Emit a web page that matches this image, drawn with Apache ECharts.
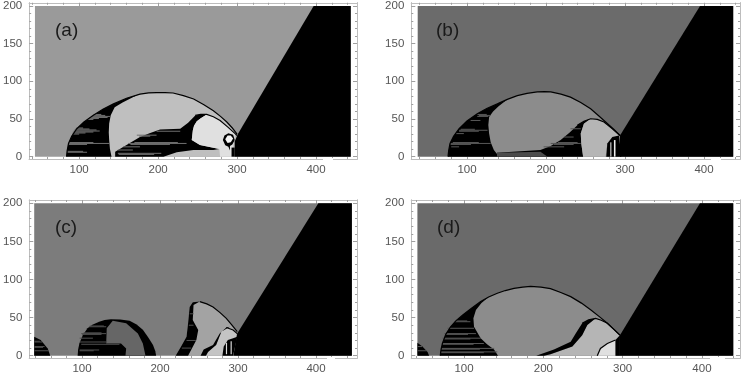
<!DOCTYPE html>
<html><head><meta charset="utf-8">
<style>html,body{margin:0;padding:0;background:#fff}#c{width:748px;height:382px;filter:blur(0.35px)}</style>
<script src="https://cdn.jsdelivr.net/npm/echarts@6/dist/echarts.min.js"></script>
</head><body><div id="c"></div>
<script>
const xMajor=[100,200,300,400];
const xMinor=[40,60,80,120,140,160,180,220,240,260,280,320,340,360,380,420,440];
const yMajor=[0,50,100,150,200];
const yMinor=[10,20,30,40,60,70,80,90,110,120,130,140,160,170,180,190];
const panelNames=['(a)','(b)','(c)','(d)'];

// Panel (a) regions [x,y]
const aBackground=[[44,0],[44,200],[444,200],[444,0]];
const aWedge=[[297,0],[297,20],[301,30],[397,200],[444,200],[444,0]];
const aOuterEdge=[[84,0],[84.8,8],[86.5,17.5],[90.5,27],[97,37],[106,46],[118,55],[130,63],[143.5,70],[160,77.5],[177,83],[188,84.6],[198,85],[209,85],[219,84.5],[232,81],[245,76.6],[258,69],[270,61],[279,53.5],[287,46],[294,38],[300,30]];
const aDome=[...aOuterEdge,[297,0]];
const aLobes=[...aOuterEdge.slice(0,11),[168,79],[155,72],[145,65.6],[140,55],[138,44],[137.5,32],[138,22],[139,10],[141,0]];
const aBand=[[145.6,0],[145.6,6.5],[160,15.5],[177,26],[190,31.5],[202.5,36],[228,37],[238,45],[247,54.7],[254,56],[261.6,56],[254,51],[249,47],[245.5,41],[244,35],[242.6,22],[253,15.3],[277.6,10],[270,8.8],[244.7,8.8],[223.6,5.7],[206.8,0]];
const aInnerEdge=[[247,54.7],[254,56],[261.6,56],[270,53],[278.5,48],[288,39.5],[297.5,30.6],[300,28]];
const aCore=[[261.6,56],[270,53],[278.5,48],[288,39.5],[297.5,30.6],[293,0],[278.5,0],[277.6,10],[253,15.3],[242.6,22],[244,35],[245.5,41],[249,47],[254,51]];
const aBlob=[[282,22],[284,28],[289,31],[295,29],[297,22],[294,16],[291,14],[291,8],[289,13],[285,15]];
const aBlobHole=[[285,23],[288,28],[292,28],[295,24],[292,19],[288,18]];
const aFoot=[[293,0],[293,12],[297,12],[297,0]];
const aStripes=[[56,118,128],[54.7,117,133],[53.4,115,139],[52,113,136],[50.7,112,125],[49.4,110,118],[38,96,105],[36.7,95,113],[35.4,94,122],[34,93,126],[32.7,92,118],[31.4,92,108],[30,91,100],[18.7,87,118],[17.5,86.5,139],[16.2,86.5,110],[7,85,105],[5.8,85,110],[33.7,198,228],[28.5,173,198],[27.2,176,190],[18.7,170,225],[17.5,162,236],[16.2,165,215],[13,155.6,177],[8.8,149,168],[4.4,149,204],[3,150,195]];

// Panel (b) regions
const bBackground=[[37.6,0],[37.6,200],[437,200],[437,0]];
const bWedge=[[293.7,0],[293.7,28],[395,200],[437,200],[437,0]];
const bOuterEdge=[[76,0],[76.8,8],[78.5,17.5],[83,27],[90,37],[100,47.5],[113,57],[125,64],[138.4,70],[151,76],[163.7,81],[176,84],[189,86],[198,86.3],[206,86],[219,83],[231,79],[244,72],[256.5,63.5],[267,54],[277.6,44],[286,36],[293.7,28]];
const bDome=[...bOuterEdge,[293.7,0]];
const bLobes=[...bOuterEdge.slice(0,10),[140,67],[133,60],[128,52.5],[127,42],[128,30.6],[130,19],[134,8.7],[138,3.5],[138,0]];
const bBand=[[138,0],[138,5],[193,8.7],[206,14],[218.6,22],[230,32],[239.7,41.6],[248,47],[256.5,50.3],[248,43.8],[244,30.6],[244.7,17.5],[247,0]];
const bBandFloor=[[138,5],[193,6.5],[202,0],[138,0]];
const bInnerEdge=[[239.7,41.6],[248,47],[256.5,50.3],[265,49.5],[273.4,46],[284,37],[293.7,28]];
const bCore=[[256.5,50.3],[265,49.5],[273.4,46],[284,37],[292.4,28.4],[290,22],[277.6,17.5],[275.5,0],[247,0],[244.7,17.5],[244,30.6],[248,43.8]];
const bBlob=[[276.4,0],[277.6,17.5],[284,26],[292.4,28],[295.4,0]];
const bBlobGap1=[[281,0],[281,19],[283,19],[283,0]];
const bBlobGap2=[[286,0],[286,22],[288,22],[288,0]];
const bStripes=[[56,113,125],[54.7,115,130],[53.4,113,127],[48,104.6,117],[36.3,92,110],[35,90,126],[33.7,90,115],[30.6,86,96],[18.7,82,115],[17.5,79,130],[16.2,79,105],[13,80,90],[37,231,244],[26,223,235],[18.7,215,240],[17.5,206,244],[16.2,210,235],[13,197,223]];

// Panel (c) regions
const cBackground=[[38.7,0],[38.7,200],[446,200],[446,0]];
const cWedge=[[294,0],[299,29],[403,200],[446,200],[446,0]];
const cSmall=[[38.7,25],[47,20.5],[56,9.6],[59.3,0],[38.7,0]];
const cMidDome=[[94.4,0],[95,8],[96.6,16],[101,27],[107,36],[114,41],[122,44.6],[129,47],[137,48],[149,47.5],[161,46],[170,41],[178,34],[185,24],[191,14],[194,6],[195,0]];
const cMidCore=[[139.4,46],[131.7,36],[131,16],[150,16],[156.6,9.6],[155.7,0],[181.4,0],[178,16],[171.6,29],[156.6,42.5]];
const cOuterEdge=[[251,71],[260,68],[268,64],[277,56.5],[285,49],[292,40.5],[299,31.5]];
const cDome=[[220,0],[227,12],[234,25],[236,42.5],[238,64],[242,70],...cOuterEdge,[297,0]];
const cLobes=[[220,0],[227,12],[234,25],[236,42.5],[238,64],[242,70],[251,71],[243,66.5],[242,47],[249,33.7],[246.6,20.6],[236,0]];
const cCore=[[285,37],[293.7,33.7],[298,29],[296,0],[252,0],[261.6,9.6],[272,14],[278.7,31.5]];
const cBand=[[252,0],[256,8.3],[268,14],[276.6,29],[285,37],[289.5,38],[278.7,31.5],[272,14],[261.6,5],[259,0]];
const cBlob=[[280,0],[281.7,12],[287,20.6],[293.7,22.8],[299,25],[293.7,0]];
const cBlobGap1=[[284.5,2],[284.5,17],[286,17],[286,2]];
const cBlobGap2=[[290.5,2],[290.5,19],[292,19],[292,2]];
const cInnerEdge=[[285,37],[293.7,33.7],[299,29]];
const cStripes=[[19,39,46],[18,39,49],[12,39,52],[11,39,50],[6.5,39,57],[39,110,128],[38,109,131],[30,102,125],[29,99,131],[28,100,125],[23,97,114],[18,97,131],[15,99,148],[7.5,97,122],[6.5,97,115],[55,238,243],[40,237,243],[20,234,246],[10,228,240]];

// Panel (d) regions
const dBackground=[[41.2,0],[41.2,200],[439.5,200],[439.5,0]];
const dWedge=[[296.6,0],[296.6,27],[397.5,200],[439.5,200],[439.5,0]];
const dSmall=[[41.2,17],[47.5,12],[54,5],[56,0],[41.2,0]];
const dOuterEdge=[[70,0],[71,8],[72.7,16],[77,28],[83,38],[90,46],[98,53],[109,62],[121,71],[131,77],[142,82],[152,85.5],[163,88.4],[174,90],[184,91],[197,90],[209,88],[222,83],[234.5,77.5],[248,69],[260,60],[271,51],[280.7,42.5],[289,34.5],[296.6,27]];
const dDome=[...dOuterEdge,[296.6,0]];
const dLobes=[...dOuterEdge.slice(0,10),[122,69],[115,60],[111.8,49],[112.6,38],[121,22.8],[129,15],[137.8,8.3],[142.9,0]];
const dInnerEdge=[[249,42.5],[257,47],[266,49],[273,46.5],[280.7,42.5],[289,34.5],[296.6,27]];
const dCore=[[266,49],[273,46.5],[280.7,42.5],[289,34.5],[296.6,27],[291,20.6],[268,0],[200.8,0],[209,2],[236.6,12],[249,27],[255.5,40.3]];
const dBand=[[191,0],[213.4,8.3],[234.5,18.4],[240.8,29.3],[249,42.5],[257,47],[266,49],[255.5,40.3],[249,27],[236.6,12],[209,2],[200.8,0]];
const dPocketEdge=[[268,0],[272,9.6],[280.7,16],[291,20.6]];
const dPocket=[...dPocketEdge,[291,0]];
const dFoot=[[291,20.6],[296.6,27],[296.6,0],[291,0]];
const dStripes=[[12,41.2,47],[6.5,41.2,53],[45.6,90,104],[44.6,87.4,108],[36,79,112.6],[29,75,115],[28,77,105],[23,72.7,121],[22,74,108],[16,72.7,125],[15,73,112],[9.6,70.6,138],[8.6,71,120],[5,70.6,142],[4,71,125]];

// Layout and styles
const INK='#000';
const layouts=[
 {left:29,top:1,right:357,bottom:159,xMin:36.7,xMax:451.9,yMin:-3.15,yMax:204.3,tx:55,ty:21,gap:[323,333]},
 {left:411.3,top:1,right:740,bottom:159,xMin:29.5,xMax:445.6,yMin:-3.15,yMax:204.3,tx:436,ty:21,gap:[711,721]},
 {left:29.3,top:200,right:357,bottom:358,xMin:32.4,xMax:452.6,yMin:-3,yMax:204.3,tx:55,ty:218,gap:[327,335]},
 {left:411.3,top:200,right:740,bottom:358,xMin:33.5,xMax:448,yMin:-3,yMax:204.3,tx:437,ty:218,gap:[710,725]}
];
const panels=[
 {fills:[[aBackground,'#9a9a9a'],[aDome,'#bfbfbf'],[aLobes,INK],[aBand,INK],[aCore,'#e0e0e0'],[aBlob,INK],[aBlobHole,'#f4f4f4'],[aFoot,INK],[aWedge,INK]],edges:[aOuterEdge,aInnerEdge],stripes:aStripes,stripe:'#707070'},
 {fills:[[bBackground,'#6b6b6b'],[bDome,'#8c8c8c'],[bLobes,INK],[bBand,INK],[bBandFloor,'#4c4c4c'],[bCore,'#b5b5b5'],[bBlob,INK],[bBlobGap1,'#999'],[bBlobGap2,'#eee'],[bWedge,INK]],edges:[bOuterEdge,bInnerEdge],stripes:bStripes,stripe:'#585858'},
 {fills:[[cBackground,'#7c7c7c'],[cSmall,INK],[cMidDome,INK],[cMidCore,'#666'],[cDome,'#a3a3a3'],[cLobes,INK],[cCore,'#c4c4c4'],[cBand,INK],[cBlob,INK],[cBlobGap1,'#ddd'],[cBlobGap2,'#ddd'],[cWedge,INK]],edges:[cOuterEdge,cInnerEdge],stripes:cStripes,stripe:'#505050'},
 {fills:[[dBackground,'#6a6a6a'],[dSmall,INK],[dDome,'#8c8c8c'],[dLobes,INK],[dCore,'#b5b5b5'],[dBand,INK],[dPocket,'#e0e0e0'],[dFoot,INK],[dWedge,INK]],edges:[dOuterEdge,dInnerEdge,dPocketEdge],stripes:dStripes,stripe:'#585858'}
];
const W=748,H=382,frame='#bdbdbd',tick='#a0a0a0',label='#555';
const font='"Liberation Sans",Arial,sans-serif';
const grid=[],xAxis=[],yAxis=[],series=[],title=[],graphic=[];
layouts.forEach((L,p)=>{
  grid.push({left:L.left,top:L.top,width:L.right-L.left,height:L.bottom-L.top,show:false});
  title.push({text:panelNames[p],left:L.tx,top:L.ty,padding:0,textStyle:{fontSize:19,fontWeight:'normal',color:'#1a1a1a',fontFamily:font}});
  graphic.push({type:'rect',z:100,silent:true,shape:{x:L.gap[0],y:L.bottom-1,width:L.gap[1]-L.gap[0],height:4},style:{fill:'#fff'}});
  const axis=(kind,pos,vals,len,lab)=>({
    type:'value',gridIndex:p,position:pos,
    min:kind==='x'?L.xMin:L.yMin,max:kind==='x'?L.xMax:L.yMax,
    splitLine:{show:false},scale:true,
    axisLine:{show:true,onZero:false,lineStyle:{color:frame,width:1}},
    axisTick:{show:true,inside:true,length:len,customValues:vals,lineStyle:{color:tick,width:1}},
    axisLabel:lab?{show:true,customValues:vals,color:label,fontSize:11.5,fontFamily:font,margin:kind==='x'?5:7,hideOverlap:false,showMinLabel:true,showMaxLabel:true}:{show:false}
  });
  xAxis.push(axis('x','bottom',xMajor,4,true),axis('x','bottom',xMinor,2,false),axis('x','top',xMajor,4,false),axis('x','top',xMinor,2,false));
  yAxis.push(axis('y','left',yMajor,4,true),axis('y','left',yMinor,2,false),axis('y','right',yMajor,4,false),axis('y','right',yMinor,2,false));
  const xi=p*4,yi=p*4;
  const base={type:'custom',xAxisIndex:xi,yAxisIndex:yi,silent:true,animation:false,coordinateSystem:'cartesian2d',z:3};
  panels[p].fills.forEach(([pts,fill])=>{
    series.push({...base,data:pts,encode:{x:0,y:1},renderItem:(prm,api)=>prm.dataIndex!==0?null:{type:'polygon',shape:{points:pts.map(q=>api.coord(q))},style:{fill,stroke:null}}});
  });
  series.push({...base,data:panels[p].stripes,encode:{x:1,y:0},renderItem:(prm,api)=>{
    const a=api.coord([api.value(1),api.value(0)]),b=api.coord([api.value(2),api.value(0)]);
    return {type:'line',shape:{x1:a[0],y1:a[1],x2:b[0],y2:b[1]},style:{stroke:panels[p].stripe,lineWidth:1}};
  }});
  panels[p].edges.forEach(pts=>{
    series.push({...base,data:pts,encode:{x:0,y:1},renderItem:(prm,api)=>prm.dataIndex!==0?null:{type:'polyline',shape:{points:pts.map(q=>api.coord(q))},style:{fill:null,stroke:INK,lineWidth:1.2}}});
  });
});
const chart=echarts.init(document.getElementById('c'),null,{renderer:'canvas',width:W,height:H});
chart.setOption({animation:false,backgroundColor:'#fff',tooltip:{show:false},title,grid,xAxis,yAxis,series,graphic});
</script></body></html>
